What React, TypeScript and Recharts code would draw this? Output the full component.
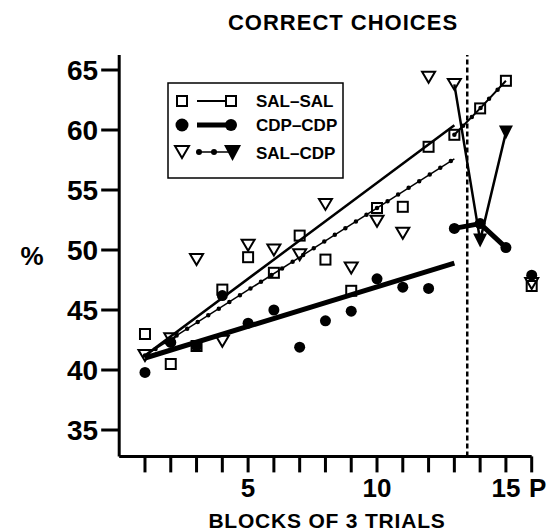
import React from 'react';
import {
  ComposedChart, Line, Scatter, XAxis, YAxis, ReferenceLine, Legend,
} from 'recharts';

// x positions (blocks of 3 trials, 16 = P)
const blocks = [1, 2, 3, 4, 5, 6, 7, 8, 9, 10, 11, 12, 13, 14, 15, 16];
const xTickLabels: Record<number, string> = { 5: '5', 10: '10', 15: '15', 16: 'P' };
const yTicks = [35, 40, 45, 50, 55, 60, 65];

// % correct choices per block
const salSal = [43.0, 40.5, 42.0, 46.7, 49.4, 48.1, 51.2, 49.2, 46.6, 53.5, 53.6, 58.6, 59.6, 61.8, 64.1, 47.0];
const cdpCdp = [39.8, 42.3, 42.0, 46.2, 43.9, 45.0, 41.9, 44.1, 44.9, 47.6, 46.9, 46.8, 51.8, 52.2, 50.2, 47.9];
const salCdp = [41.2, 42.6, 49.2, 42.4, 50.4, 50.0, 49.6, 53.8, 48.5, 52.4, 51.4, 64.4, 63.8, null, null, 47.2];

// after the switch (dotted line)
const switchBlock = 13.5;
const postBlocks = [13, 14, 15];
const salSalPost = [59.6, 61.8, 64.1];
const cdpCdpPost = [51.8, 52.2, 50.2];
const salCdpPost = [63.8, 50.8, 59.8];

// regression lines, blocks 1-13
const fitBlocks = [1, 13];
const salSalFit = [41.2, 60.4];
const cdpCdpFit = [41.0, 48.9];
const salCdpFit = [41.2, 57.6];

const toPts = (xs: number[], ys: (number | null)[]) =>
  xs.map((x, i) => ({ x, y: ys[i] })).filter(p => p.y !== null);

const FONT = '"Liberation Sans", Arial, Helvetica, sans-serif';

const OpenSquare = (p: any) => (
  <rect x={p.cx - 5} y={p.cy - 5} width={10} height={10} fill="none" stroke="#000" strokeWidth={2} />
);
const FilledDot = (p: any) => <circle cx={p.cx} cy={p.cy} r={5.5} fill="#000" />;
const OpenTri = (p: any) => (
  <path d={`M${p.cx - 6.5},${p.cy - 5.5}L${p.cx + 6.5},${p.cy - 5.5}L${p.cx},${p.cy + 5.5}Z`}
    fill="none" stroke="#000" strokeWidth={2} />
);
const FilledTri = (p: any) => (
  <path d={`M${p.cx - 7},${p.cy - 7}L${p.cx + 7},${p.cy - 7}L${p.cx},${p.cy + 7}Z`} fill="#000" />
);

const XTick = (props: any) => {
  const { x, y, payload } = props;
  const label = xTickLabels[payload.value];
  if (!label) return <g />;
  return (
    <text x={x + (label === 'P' ? 6 : 0)} y={y + 23} textAnchor="middle"
      fontFamily={FONT} fontWeight="bold" fontSize={26} fill="#000">{label}</text>
  );
};

const YTick = (props: any) => {
  const { x, y, payload } = props;
  return (
    <text x={x} y={y + 10} textAnchor="end" fontFamily={FONT} fontWeight="bold" fontSize={28} fill="#000">
      {payload.value}
    </text>
  );
};

const LegendBox = () => {
  const t = { fontFamily: FONT, fontWeight: 'bold' as const, fontSize: 17, fill: '#000' };
  return (
    <svg width={178} height={98}>
      <rect x={1} y={1} width={175} height={95} fill="#fff" stroke="#000" strokeWidth={1.5} />
      {/* SAL-SAL */}
      <rect x={10} y={14} width={10} height={10} fill="none" stroke="#000" strokeWidth={2} />
      <line x1={30} y1={19} x2={58} y2={19} stroke="#000" strokeWidth={2} />
      <rect x={59} y={14} width={10} height={10} fill="none" stroke="#000" strokeWidth={2} />
      <text x={89} y={25} {...t}>SAL–SAL</text>
      {/* CDP-CDP */}
      <circle cx={15} cy={43} r={6.5} fill="#000" />
      <line x1={30} y1={43} x2={64} y2={43} stroke="#000" strokeWidth={5} />
      <circle cx={64} cy={43} r={6} fill="#000" />
      <text x={89} y={49} {...t}>CDP–CDP</text>
      {/* SAL-CDP */}
      <path d="M8,64L22,64L15,76Z" fill="none" stroke="#000" strokeWidth={2} />
      <line x1={30} y1={70} x2={62} y2={70} stroke="#000" strokeWidth={1.5} />
      <circle cx={32} cy={70} r={3} fill="#000" />
      <circle cx={47} cy={70} r={3} fill="#000" />
      <path d="M57,63L74,63L65.5,79Z" fill="#000" />
      <text x={89} y={77} {...t}>SAL–CDP</text>
    </svg>
  );
};

export default function App() {
  const salSalPts = toPts(blocks, salSal);
  const cdpCdpPts = toPts(blocks, cdpCdp);
  const salCdpPts = toPts(blocks, salCdp);
  const salCdpFilled = toPts(postBlocks.slice(1), salCdpPost.slice(1));

  return (
    <div style={{ position: 'absolute', left: 0, top: 0, background: '#fff' }}>
      <ComposedChart width={548} height={531}
        margin={{ top: 55, right: 16.3, bottom: 14.6, left: 19.2 }}>
        <XAxis dataKey="x" type="number" domain={[0, 16]} ticks={blocks}
          interval={0} tick={<XTick />} height={60} tickSize={16} tickMargin={2}
          axisLine={{ stroke: '#000', strokeWidth: 3 }} tickLine={{ stroke: '#000', strokeWidth: 3 }} />
        <YAxis type="number" domain={[32.8, 66.25]} ticks={yTicks}
          interval={0} tick={<YTick />} width={100} tickSize={18} tickMargin={3}
          axisLine={{ stroke: '#000', strokeWidth: 3 }} tickLine={{ stroke: '#000', strokeWidth: 3 }} />
        <ReferenceLine x={switchBlock} stroke="#000" strokeWidth={2.5} strokeDasharray="5 3" />

        {/* regression lines */}
        <Line data={toPts(fitBlocks, salSalFit)} dataKey="y" stroke="#000" strokeWidth={2.5}
          dot={false} isAnimationActive={false} legendType="none" />
        <Line data={toPts(fitBlocks, cdpCdpFit)} dataKey="y" stroke="#000" strokeWidth={5}
          dot={false} isAnimationActive={false} legendType="none" />
        <Line data={toPts(fitBlocks, salCdpFit)} dataKey="y" stroke="#000" strokeWidth={1.5}
          dot={false} isAnimationActive={false} legendType="none" />
        <Line data={toPts(fitBlocks, salCdpFit)} dataKey="y" stroke="#000" strokeWidth={4.5}
          strokeDasharray="0 12.5" strokeLinecap="round"
          dot={false} isAnimationActive={false} legendType="none" />

        {/* post-switch lines */}
        <Line data={toPts(postBlocks, salSalPost)} dataKey="y" stroke="#000" strokeWidth={2}
          dot={false} isAnimationActive={false} legendType="none" />
        <Line data={toPts(postBlocks, salSalPost)} dataKey="y" stroke="#000" strokeWidth={4.5}
          strokeDasharray="0 12.5" strokeLinecap="round"
          dot={false} isAnimationActive={false} legendType="none" />
        <Line data={toPts(postBlocks, cdpCdpPost)} dataKey="y" stroke="#000" strokeWidth={5}
          dot={false} isAnimationActive={false} legendType="none" />
        <Line data={toPts(postBlocks, salCdpPost)} dataKey="y" stroke="#000" strokeWidth={2.5}
          dot={false} isAnimationActive={false} legendType="none" />

        {/* markers */}
        <Scatter data={salSalPts} dataKey="y" shape={OpenSquare} isAnimationActive={false} legendType="none" />
        <Scatter data={salCdpPts} dataKey="y" shape={OpenTri} isAnimationActive={false} legendType="none" />
        <Scatter data={salCdpFilled} dataKey="y" shape={FilledTri} isAnimationActive={false} legendType="none" />
        <Scatter data={cdpCdpPts} dataKey="y" shape={FilledDot} isAnimationActive={false} legendType="none" />

        <Legend content={() => <LegendBox />} layout="horizontal" verticalAlign="middle" align="center"
          wrapperStyle={{ left: 167, top: 82, width: 178, height: 98 }} />

        <text x={343} y={30} textAnchor="middle" fontFamily={FONT} fontWeight="bold" fontSize={22}
          letterSpacing={1} fill="#000">CORRECT CHOICES</text>
        <text x={32} y={265} textAnchor="middle" fontFamily={FONT} fontWeight="bold" fontSize={26}
          fill="#000">%</text>
        <text x={327} y={528} textAnchor="middle" fontFamily={FONT} fontWeight="bold" fontSize={21}
          letterSpacing={0.8} fill="#000">BLOCKS OF 3 TRIALS</text>
      </ComposedChart>
    </div>
  );
}
